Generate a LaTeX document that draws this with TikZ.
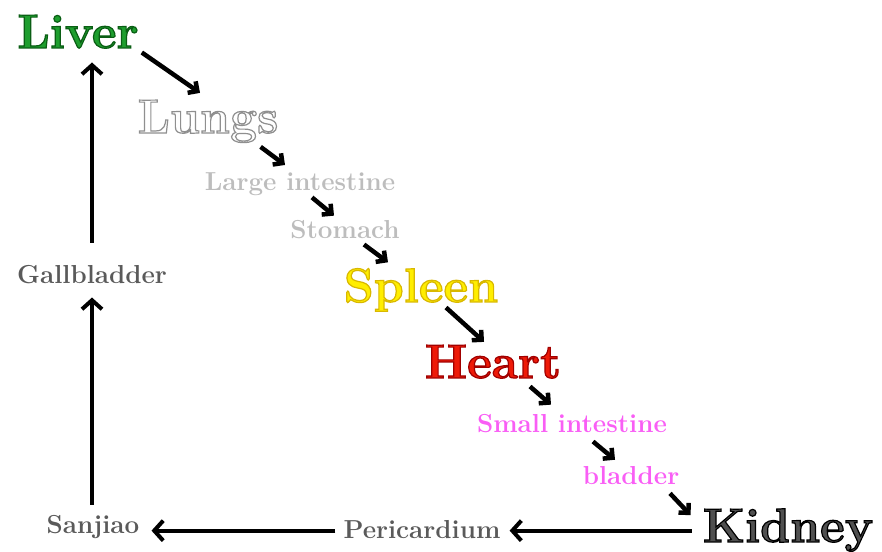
\documentclass[tikz,border=0pt]{standalone}
\usepackage{fontspec}
\usepackage{tikz}
\usetikzlibrary{arrows.meta}

\definecolor{livergreen}{HTML}{1E9E2E}
\definecolor{bowelgray}{HTML}{BDBDBD}
\definecolor{spleenyellow}{HTML}{FFEE00}
\definecolor{heartred}{HTML}{EE1A08}
\definecolor{smallpink}{HTML}{F95EF5}
\definecolor{kidneygray}{HTML}{505050}
\definecolor{organgray}{HTML}{5A5A5A}

% outlined big words: fill colour, stroke colour as r g b
\newcommand{\organline}[3]{\textcolor{#1}{\special{pdf:literal direct 2 Tr 1.2 w #2 RG}#3\special{pdf:literal direct 0 Tr}}}

\begin{document}
\begin{tikzpicture}[x=1pt, y=-1pt, font=\bfseries,
  big/.style={anchor=base, inner sep=0pt, font=\fontsize{48}{56}\selectfont\bfseries},
  small/.style={anchor=base, inner sep=0pt, font=\fontsize{26}{30}\selectfont\bfseries},
  flow/.style={-{Straight Barb[length=7pt,width=14pt]}, line width=4.5pt},
  cycle/.style={-{Straight Barb[length=9pt,width=20pt]}, line width=4pt}]

\useasboundingbox (0,0) rectangle (882,551);

% --- Organs ---
\node[big] (liver) at (78,48) {\organline{livergreen}{0.04 0.37 0.08}{Liver}};
\node[big] (lungs) at (208,133) {\organline{white}{0.56 0.56 0.56}{Lungs}};
\node[small, bowelgray] (largeint) at (300,190) {Large intestine};
\node[small, bowelgray] (stomach) at (345,238) {Stomach};
\node[big] (spleen) at (421,302) {\organline{spleenyellow}{0.85 0.72 0}{Spleen}};
\node[big] (heart) at (493,378) {\organline{heartred}{0.63 0 0}{Heart}};
\node[small, smallpink] (smallint) at (572,432) {Small intestine};
\node[small, smallpink] (bladder) at (631,484) {bladder};
\node[big] (kidney) at (788,542) {\organline{kidneygray}{0 0 0}{Kidney}};
\node[small, organgray] (pericard) at (422,538) {Pericardium};
\node[small, organgray] (sanjiao) at (93,533) {Sanjiao};
\node[small, organgray] (gallbl) at (92,283) {Gallbladder};

% --- Diagonal chain ---
\draw[flow] ([xshift=3pt,yshift=-4pt]liver.south east) -- ([xshift=-8pt,yshift=7pt]lungs.north);
\draw[flow] ([xshift=-18pt,yshift=-4pt]lungs.south east) -- ([xshift=-15pt,yshift=7pt]largeint.north);
\draw[flow] ([xshift=12pt,yshift=-2pt]largeint.south) -- ([xshift=-11pt,yshift=4pt]stomach.north);
\draw[flow] ([xshift=19pt,yshift=-6pt]stomach.south) -- ([xshift=-33pt,yshift=6pt]spleen.north);
\draw[flow] ([xshift=25pt,yshift=4pt]spleen.south) -- ([xshift=-9pt,yshift=3pt]heart.north);
\draw[flow] ([xshift=37pt,yshift=-8pt]heart.south) -- ([xshift=-21pt,yshift=9pt]smallint.north);
\draw[flow] ([xshift=21pt,yshift=-9pt]smallint.south) -- ([xshift=-16pt,yshift=6pt]bladder.north);
\draw[flow] ([xshift=39pt,yshift=-9pt]bladder.south) -- ([xshift=-12pt,yshift=15pt]kidney.west);

% --- Way back ---
\draw[cycle] ([xshift=-11pt,yshift=-0.5pt]kidney.west) -- ([xshift=9pt,yshift=-0.5pt]pericard.east |- kidney.west);
\draw[cycle] ([xshift=-8pt,yshift=-0.5pt]pericard.west |- kidney.west) -- ([xshift=12pt,yshift=-0.5pt]sanjiao.east |- kidney.west);
\draw[cycle] ([yshift=10pt]gallbl.south |- sanjiao.north) -- ([yshift=-14pt]gallbl.south);
\draw[cycle] ([yshift=22pt]gallbl.north) -- ([yshift=-14pt]gallbl.north |- liver.south);

\end{tikzpicture}
\end{document}
